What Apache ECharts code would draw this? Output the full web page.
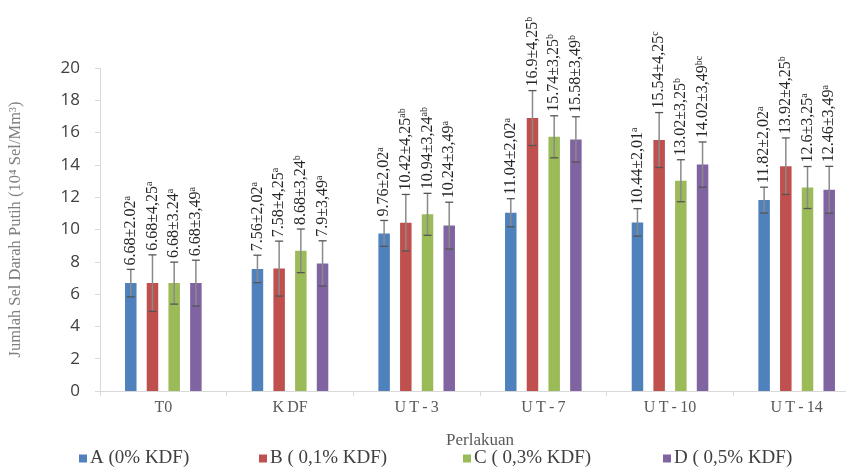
<!DOCTYPE html>
<html>
<head>
<meta charset="utf-8">
<script src="https://cdn.jsdelivr.net/npm/echarts@6/dist/echarts.min.js"></script>
<style>html,body{margin:0;padding:0;background:#fff;}#c{width:846px;height:470px;}</style>
</head>
<body>
<div id="c"></div>
<script>
var categories = ['T0', 'KDF', 'UT-3', 'UT-7', 'UT-10', 'UT-14'];
var categoryLabels = ['T0', 'K DF', 'U T - 3', 'U T - 7', 'U T - 10', 'U T - 14'];
var seriesNames = ['A (0% KDF)', 'B ( 0,1% KDF)', 'C ( 0,3% KDF)', 'D ( 0,5% KDF)'];
var colors = ['#4F81BD', '#C0504D', '#9BBB59', '#8064A2'];

var valuesA = [6.68, 7.56, 9.76, 11.04, 10.44, 11.82];
var valuesB = [6.68, 7.58, 10.42, 16.9, 15.54, 13.92];
var valuesC = [6.68, 8.68, 10.94, 15.74, 13.02, 12.6];
var valuesD = [6.68, 7.9, 10.24, 15.58, 14.02, 12.46];

// error bar half-lengths as drawn
var errA = [0.85, 0.85, 0.8, 0.87, 0.85, 0.8];
var errB = [1.75, 1.7, 1.75, 1.7, 1.7, 1.75];
var errC = [1.3, 1.35, 1.3, 1.3, 1.3, 1.3];
var errD = [1.42, 1.4, 1.45, 1.4, 1.4, 1.45];

// label texts
var sdA = ['2.02', '2,02', '2,02', '2,02', '2,01', '2,02'];
var sdB = ['4,25', '4,25', '4,25', '4,25', '4,25', '4,25'];
var sdC = ['3.24', '3,24', '3,24', '3,25', '3,25', '3,25'];
var sdD = ['3,49', '3,49', '3,49', '3,49', '3,49', '3,49'];
var supA = ['a', 'a', 'a', 'a', 'a', 'a'];
var supB = ['a', 'a', 'ab', 'b', 'c', 'b'];
var supC = ['a', 'b', 'ab', 'b', 'b', 'a'];
var supD = ['a', 'a', 'a', 'b', 'bc', 'a'];

var yTicks = [0, 2, 4, 6, 8, 10, 12, 14, 16, 18, 20];

var values = [valuesA, valuesB, valuesC, valuesD];
var errs = [errA, errB, errC, errD];
var sds = [sdA, sdB, sdC, sdD];
var sups = [supA, supB, supC, supD];

var BAR_W = 11.5, BAR_GAP_PX = 10.2;

var serifFont = '"Liberation Serif", "Times New Roman", serif';

var series = [];
values.forEach(function (vals, si) {
  series.push({
    name: seriesNames[si],
    type: 'bar',
    data: vals,
    barWidth: BAR_W,
    barGap: (BAR_GAP_PX / BAR_W * 100).toFixed(1) + '%',
    itemStyle: { color: colors[si] },
    emphasis: { disabled: true },
    z: 2
  });
});

values.forEach(function (vals, si) {
  var data = vals.map(function (v, ci) {
    return [ci, v, errs[si][ci], si];
  });
  series.push({
    type: 'custom',
    name: 'err' + si,
    data: data,
    z: 5,
    silent: true,
    encode: { x: 0, y: 1 },
    renderItem: function (params, api) {
      var ci = api.value(0), v = api.value(1), e = api.value(2), s = api.value(3);
      var c = api.coord([ci, v]);
      var off = (s - 1.5) * (BAR_W + BAR_GAP_PX);
      var x = c[0] + off;
      var yTop = api.coord([ci, v + e])[1];
      var yBot = api.coord([ci, v - e])[1];
      var half = 4;
      var txt = '{v|' + vals[ci] + '\u00b1' + sds[s][ci] + '}{s|' + sups[s][ci] + '}';
      return {
        type: 'group',
        children: [
          { type: 'line', shape: { x1: x, y1: yTop, x2: x, y2: yBot }, style: { stroke: '#8a8a8a', lineWidth: 1.5 } },
          { type: 'line', shape: { x1: x - half, y1: yTop, x2: x + half, y2: yTop }, style: { stroke: '#555', lineWidth: 1.3 } },
          { type: 'line', shape: { x1: x - half, y1: yBot, x2: x + half, y2: yBot }, style: { stroke: '#555', lineWidth: 1.3 } },
          {
            type: 'text',
            x: x,
            y: yTop - 4,
            rotation: Math.PI / 2,
            style: {
              text: txt,
              align: 'left',
              verticalAlign: 'middle',
              rich: {
                v: { fontFamily: serifFont, fontSize: 16, fill: '#262626', color: '#262626' },
                s: { fontFamily: serifFont, fontSize: 10, fill: '#262626', color: '#262626', padding: [0, 0, 7, 0] }
              }
            }
          }
        ]
      };
    }
  });
});

var legendLefts = [74, 254, 458, 658];
var legends = seriesNames.map(function (n, i) {
  return {
    data: [n],
    left: legendLefts[i],
    top: 444,
    icon: 'rect',
    itemWidth: 8,
    itemHeight: 8,
    itemGap: 4,
    selectedMode: false,
    textStyle: { fontFamily: serifFont, fontSize: 19, color: '#404040', padding: [0, 0, 0, -2] }
  };
});

var option = {
  animation: false,
  backgroundColor: '#fff',
  legend: legends,
  grid: { left: 100, width: 760, top: 68, bottom: 79, outerBoundsMode: 'none' },
  xAxis: {
    type: 'category',
    data: categories,
    name: 'Perlakuan',
    nameLocation: 'middle',
    nameGap: 41,
    nameTextStyle: { fontFamily: serifFont, fontSize: 17, color: '#595959' },
    axisLine: { lineStyle: { color: '#d9d9d9', width: 1 } },
    axisTick: { show: true, length: 5, lineStyle: { color: '#d9d9d9' } },
    axisLabel: {
      margin: 9,
      fontFamily: serifFont,
      fontSize: 16,
      color: '#595959',
      formatter: function (v, i) { return categoryLabels[i].replace(/ /g, '\u2009'); }
    },
    splitLine: { show: false }
  },
  yAxis: {
    type: 'value',
    min: yTicks[0],
    max: yTicks[yTicks.length - 1],
    interval: yTicks[1] - yTicks[0],
    name: 'Jumlah Sel Darah Putih (10\u2074 Sel/Mm\u00b3)',
    nameLocation: 'middle',
    nameGap: 76,
    nameTextStyle: { fontFamily: serifFont, fontSize: 16.5, color: '#7f7f7f' },
    axisLine: { show: true, lineStyle: { color: '#d9d9d9', width: 1 } },
    axisTick: { show: true, length: 5, lineStyle: { color: '#d9d9d9' } },
    axisLabel: { margin: 20, fontFamily: '"Open Sans", sans-serif', fontSize: 17, color: '#404040' },
    splitLine: { show: false }
  },
  series: series
};

var chart = echarts.init(document.getElementById('c'), null, { renderer: 'canvas' });
chart.setOption(option);
</script>
</body>
</html>
